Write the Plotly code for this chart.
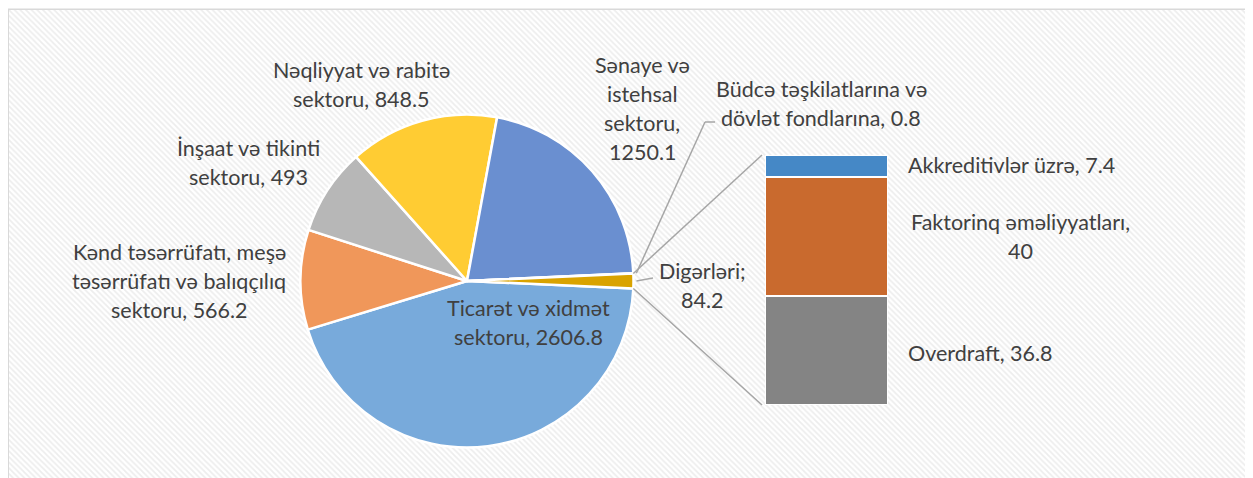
import math
import plotly.graph_objects as go

# ---------------- data ----------------
pie_labels = [
    "Ticarət və xidmət sektoru",
    "Kənd təsərrüfatı, meşə təsərrüfatı və balıqçılıq sektoru",
    "İnşaat və tikinti sektoru",
    "Nəqliyyat və rabitə sektoru",
    "Sənaye və istehsal sektoru",
    "Büdcə təşkilatlarına və dövlət fondlarına",
    "Digərləri",
]
pie_values = [2606.8, 566.2, 493, 848.5, 1250.1, 0.8, 84.2]

bar_labels = ["Overdraft", "Faktorinq əməliyyatları", "Akkreditivlər üzrə"]
bar_values = [36.8, 40, 7.4]

# label wrapping templates ({v} = value)
pie_label_templates = [
    "Ticarət və xidmət\nsektoru, {v}",
    "Kənd təsərrüfatı, meşə\ntəsərrüfatı və balıqçılıq\nsektoru, {v}",
    "İnşaat və tikinti\nsektoru, {v}",
    "Nəqliyyat və rabitə\nsektoru, {v}",
    "Sənaye və\nistehsal\nsektoru,\n{v}",
    "Büdcə təşkilatlarına və\ndövlət fondlarına, {v}",
    "Digərləri;\n{v}",
]
bar_label_templates = [
    "Overdraft, {v}",
    "Faktorinq əməliyyatları,\n{v}",
    "Akkreditivlər üzrə, {v}",
]

# ---------------- styles / layout ----------------
W, H = 1253, 478
OX, OY = 8, 8                            # page body margin
FONT = "Lato"
FSIZE = 21.5
TXT = "#404040"
LINE = "#A6A6A6"
pie_colors = ["#78AADB", "#F0975A", "#B7B7B7", "#FFCC33", "#6A8FD0", "#255E91", "#D9A300"]
bar_colors = ["#848484", "#C96A2E", "#4588C6"]

CX, CY, R = 467.0, 281.0, 166.5          # pie centre / radius in screen px
BAR_X0, BAR_X1 = 765.0, 888.0            # bar box in screen px
BAR_TOP, BAR_BOT = 155.0, 405.0
LINE_H = 29.0

def px(x):
    return (x - OX) / W

def py(y):
    return 1 - (y - OY) / H

def fmt(v):
    return f"{v:g}"

total = sum(pie_values)
other = pie_values[-1]
d_ang = other / total * 360.0
rotation = 90.0 + d_ang / 2.0

def pie_point(angle_deg, rr=R):
    a = math.radians(angle_deg)
    return CX + rr * math.sin(a), CY - rr * math.cos(a)

fig = go.Figure()

# background hatch (axes xy)
fig.add_trace(go.Bar(
    x=[0], y=[1], width=[1], xaxis="x", yaxis="y",
    marker=dict(color="white", line=dict(width=0),
                pattern=dict(shape="\\", fgcolor="#DCDCDC", bgcolor="white",
                             size=4, solidity=0.45)),
    hoverinfo="skip", showlegend=False,
))

# stacked bar (axes x2y2)
for name, val, col in zip(bar_labels, bar_values, bar_colors):
    fig.add_trace(go.Bar(
        x=[0], y=[val], width=[1], name=name, xaxis="x2", yaxis="y2",
        marker=dict(color=col, line=dict(color="white", width=2.5)),
        hoverinfo="skip", showlegend=False,
    ))

# pie
fig.add_trace(go.Pie(
    labels=pie_labels, values=pie_values, sort=False, direction="clockwise",
    rotation=rotation, textinfo="none", hoverinfo="skip", showlegend=False,
    marker=dict(colors=pie_colors, line=dict(color="white", width=2.5)),
    domain=dict(x=[px(CX - R), px(CX + R)], y=[py(CY + R), py(CY - R)]),
))

# ---------- labels ----------
pie_label_pos = [  # (centre x, first-line y, anchor)
    (528, 308, "center"),
    (179, 252, "center"),
    (248, 148, "center"),
    (361, 70, "center"),
    (642, 65, "center"),
    (821, 89, "center"),
    (702, 271, "center"),
]
bar_label_pos = [
    (906, 353, "left"),
    (1020, 222, "center"),
    (906, 165, "left"),
]

annotations = []

def add_label(text, x, y0, anchor):
    for i, line in enumerate(text.split("\n")):
        annotations.append(dict(
            x=px(x), y=py(y0 + i * LINE_H), xref="paper", yref="paper",
            text=line, showarrow=False, xanchor=anchor, yanchor="middle",
            font=dict(family=FONT, size=FSIZE, color=TXT),
        ))

for tpl, v, (x, y, a) in zip(pie_label_templates, pie_values, pie_label_pos):
    add_label(tpl.format(v=fmt(v)), x, y, a)
for tpl, v, (x, y, a) in zip(bar_label_templates, bar_values, bar_label_pos):
    add_label(tpl.format(v=fmt(v)), x, y, a)

# ---------- lines ----------
shapes = []

def seg(p0, p1):
    shapes.append(dict(type="line", xref="paper", yref="paper",
                       x0=px(p0[0]), y0=py(p0[1]), x1=px(p1[0]), y1=py(p1[1]),
                       line=dict(color=LINE, width=1.5)))

# connectors from "other" slice to the bar
top_edge = pie_point(90.0 - d_ang / 2.0)
bot_edge = pie_point(90.0 + d_ang / 2.0)
seg(top_edge, (BAR_X0 - 3, BAR_TOP))
seg(bot_edge, (BAR_X0 - 3, BAR_BOT))

# leader for Büdcə slice
cum = sum(pie_values[:5])
budce_mid = rotation + (cum + pie_values[5] / 2) / total * 360.0
bp = pie_point(budce_mid, R + 3)
seg(bp, (705, 122))
seg((705, 122), (715, 122))

# leader for Digərləri
dp = pie_point(90.0, R + 3)
seg(dp, (653, 278))

# outer frame
shapes.append(dict(type="rect", xref="paper", yref="paper",
                   x0=px(8.7), y0=-0.05, x1=1.05, y1=py(9.2),
                   line=dict(color="#D9D9D9", width=1.5), fillcolor="rgba(0,0,0,0)",
                   layer="below"))

hidden = dict(visible=False, showgrid=False, zeroline=False, fixedrange=True)

fig.update_layout(
    width=W, height=H, autosize=False,
    margin=dict(l=0, r=0, t=0, b=0),
    paper_bgcolor="white", plot_bgcolor="rgba(0,0,0,0)",
    barmode="stack", bargap=0,
    xaxis=dict(domain=[px(9), 1], range=[-0.5, 0.5], **hidden),
    yaxis=dict(domain=[0, py(10)], range=[0, 1], **hidden),
    xaxis2=dict(domain=[px(BAR_X0), px(BAR_X1)], range=[-0.5, 0.5], anchor="y2", **hidden),
    yaxis2=dict(domain=[py(BAR_BOT), py(BAR_TOP)], range=[0, sum(bar_values)], anchor="x2", **hidden),
    annotations=annotations,
    shapes=shapes,
    showlegend=False,
)

fig.write_html("out.html")
